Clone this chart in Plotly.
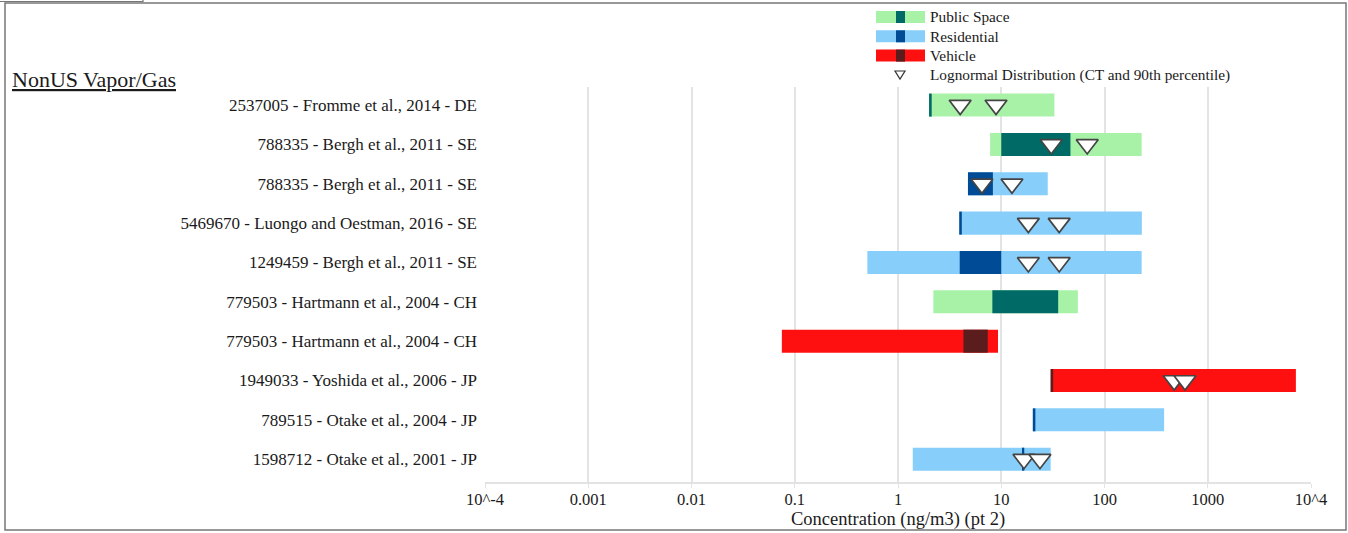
import plotly.graph_objects as go

# ---------------- data ----------------
labels = [
    "2537005 - Fromme et al., 2014 - DE",
    "788335 - Bergh et al., 2011 - SE",
    "788335 - Bergh et al., 2011 - SE",
    "5469670 - Luongo and Oestman, 2016 - SE",
    "1249459 - Bergh et al., 2011 - SE",
    "779503 - Hartmann et al., 2004 - CH",
    "779503 - Hartmann et al., 2004 - CH",
    "1949033 - Yoshida et al., 2006 - JP",
    "789515 - Otake et al., 2004 - JP",
    "1598712 - Otake et al., 2001 - JP",
]
categories = ["Public Space", "Public Space", "Residential", "Residential", "Residential",
              "Public Space", "Vehicle", "Vehicle", "Residential", "Residential"]
range_min = [2.0, 7.8, 4.76, 3.92, 0.505, 2.2, 0.075, 30.6, 20.6, 1.39]
range_max = [32.7, 229, 28.2, 230, 229, 55.2, 9.3, 7140, 378, 30.1]
inner_min = [2.0, 10.0, 4.76, 3.92, 3.96, 8.2, 4.3, 30.0, 20.2, 16.2]
inner_max = [2.12, 46.8, 8.3, 4.15, 10.0, 35.6, 7.4, 31.8, 21.4, 16.7]
ln_ct = [4.0, 30.5, 6.5, 18.3, 18.3, None, None, 473, None, 16.6]
ln_p90 = [8.9, 68.0, 12.7, 36.4, 36.4, None, None, 602, None, 23.7]

tick_vals = [1e-4, 1e-3, 1e-2, 1e-1, 1, 10, 100, 1000, 1e4]
tick_text = ["10^-4", "0.001", "0.01", "0.1", "1", "10", "100", "1000", "10^4"]

light_col = {"Public Space": "#a7f2a7", "Residential": "#87cefa", "Vehicle": "#ff1010"}
dark_col = {"Public Space": "#006b66", "Residential": "#004b96", "Vehicle": "#5a1c1c"}
legend_items = ["Public Space", "Residential", "Vehicle"]

# ---------------- layout constants ----------------
W, H = 1348, 533
ML, MR, MT, MB = 485, 37, 87, 51
PW, PH = W - ML - MR, H - MT - MB
FONT = "Liberation Serif"
GRID = "#e3e3e3"

def px(x):
    return (x - ML) / PW

def py(y):
    return (H - MB - y) / PH

ypos = list(range(len(labels)))

fig = go.Figure()

fig.add_trace(go.Bar(
    y=ypos, x=[b - a for a, b in zip(range_min, range_max)], base=range_min,
    orientation="h", width=0.585,
    marker=dict(color=[light_col[c] for c in categories], line=dict(width=0)),
    showlegend=False, hoverinfo="skip"))
fig.add_trace(go.Bar(
    y=ypos, x=[b - a for a, b in zip(inner_min, inner_max)], base=inner_min,
    orientation="h", width=0.585,
    marker=dict(color=[dark_col[c] for c in categories], line=dict(width=0)),
    showlegend=False, hoverinfo="skip"))

tri_x, tri_y = [], []
for i in ypos:
    for v in (ln_ct[i], ln_p90[i]):
        if v is not None:
            tri_x.append(v)
            tri_y.append(i)
fig.add_trace(go.Scatter(
    x=tri_x, y=tri_y, mode="markers",
    marker=dict(symbol="triangle-down", size=19, color="white",
                line=dict(color="#444", width=1.7)),
    showlegend=False, hoverinfo="skip"))

fig.update_layout(
    width=W, height=H, barmode="overlay",
    margin=dict(l=ML, r=MR, t=MT, b=MB, autoexpand=False),
    paper_bgcolor="white", plot_bgcolor="white",
    font=dict(family=FONT, color="#1a1a1a", size=15),
    xaxis=dict(type="log", range=[-4, 4], tickvals=tick_vals, ticktext=tick_text,
               automargin=False,
               showgrid=True, gridcolor=GRID, gridwidth=1.5,
               showline=True, linecolor=GRID, linewidth=1.5,
               ticks="outside", ticklen=4, tickcolor=GRID,
               ticklabelstandoff=-3,
               tickfont=dict(size=16.5, family=FONT, color="#1a1a1a"),
               title=dict(text="Concentration (ng/m3) (pt 2)", standoff=3,
                          font=dict(size=18.5, family=FONT, color="#1a1a1a")),
               zeroline=False),
    yaxis=dict(range=[9.58, -0.46], tickvals=ypos, ticktext=labels,
               automargin=False,
               showgrid=False, zeroline=False, showline=False, ticks="",
               ticklabelstandoff=7,
               tickfont=dict(size=17, family=FONT, color="#1a1a1a")),
)

shapes = []
annots = []
# outer frame
shapes.append(dict(type="rect", xref="paper", yref="paper",
                   x0=px(5), x1=px(1346), y0=py(530), y1=py(3),
                   line=dict(color="#777", width=1.5), fillcolor="rgba(0,0,0,0)", layer="below"))
shapes.append(dict(type="path", xref="paper", yref="paper",
                   path=f"M {px(0)},{py(1.5)} L {px(143)},{py(1.5)} L {px(143)},{py(-3)}",
                   line=dict(color="#777", width=1.2)))

# legend
for k, name in enumerate(legend_items):
    yc = 17 + 19.3 * k
    shapes.append(dict(type="rect", xref="paper", yref="paper",
                       x0=px(876), x1=px(925), y0=py(yc + 6), y1=py(yc - 6),
                       fillcolor=light_col[name], line=dict(width=0)))
    shapes.append(dict(type="rect", xref="paper", yref="paper",
                       x0=px(896), x1=px(905), y0=py(yc + 6), y1=py(yc - 6),
                       fillcolor=dark_col[name], line=dict(width=0)))
    annots.append(dict(xref="paper", yref="paper", x=px(928), y=py(yc), text=name,
                       showarrow=False, xanchor="left", yanchor="middle",
                       font=dict(size=15.3, family=FONT, color="#1a1a1a")))
yc = 75
shapes.append(dict(type="path", xref="paper", yref="paper",
                   path=f"M {px(895)},{py(yc-4)} L {px(905)},{py(yc-4)} L {px(900)},{py(yc+4)} Z",
                   line=dict(color="#333", width=1.2), fillcolor="white"))
annots.append(dict(xref="paper", yref="paper", x=px(928), y=py(yc), text="Lognormal Distribution (CT and 90th percentile)",
                   showarrow=False, xanchor="left", yanchor="middle",
                   font=dict(size=15.3, family=FONT, color="#1a1a1a")))

annots.append(dict(xref="paper", yref="paper", x=px(10), y=py(80), text="<u>NonUS Vapor/Gas</u>",
                   showarrow=False, xanchor="left", yanchor="middle",
                   font=dict(size=22, family=FONT, color="#1a1a1a")))

fig.update_layout(shapes=shapes, annotations=annots)
fig.write_html("out.html", config={"displayModeBar": False},
               post_script="document.body.style.margin='0';")
